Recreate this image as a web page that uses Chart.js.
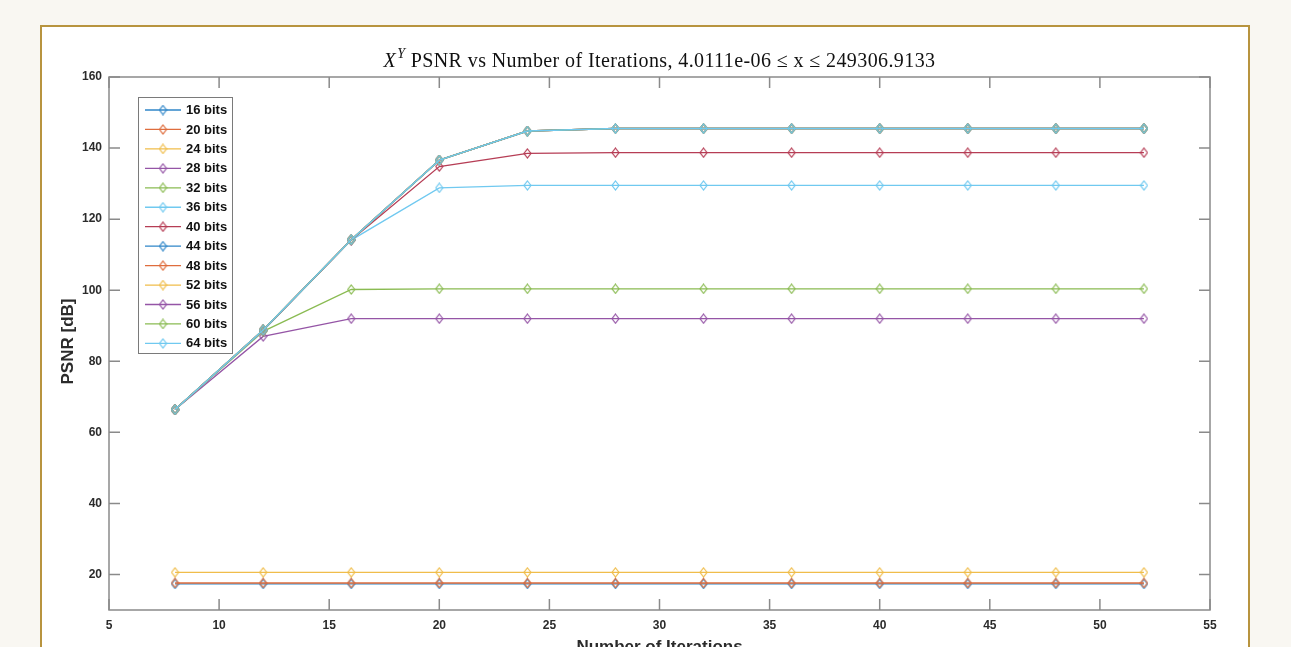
<!DOCTYPE html>
<html>
<head>
<meta charset="utf-8">
<script src="https://cdn.jsdelivr.net/npm/chart.js@4.4.0/dist/chart.umd.min.js"></script>
<style>
  body { margin: 0; background: #f9f7f2; overflow: hidden; }
  #frame {
    position: absolute; left: 40px; top: 25px; width: 1206px; height: 700px;
    border: 2px solid #b8943f; background: #fff;
  }
  #psnrChart { position: absolute; left: 0; top: 0; }
</style>
</head>
<body>
<div id="frame"></div>
<canvas id="psnrChart" width="1291" height="647"></canvas>
<script>
// data
const iterations = [8, 12, 16, 20, 24, 28, 32, 36, 40, 44, 48, 52];
const bitLabels = ['16 bits', '20 bits', '24 bits', '28 bits', '32 bits', '36 bits', '40 bits',
                   '44 bits', '48 bits', '52 bits', '56 bits', '60 bits', '64 bits'];
const psnr16 = [17.35, 17.35, 17.35, 17.35, 17.35, 17.35, 17.35, 17.35, 17.35, 17.35, 17.35, 17.35];
const psnr20 = [17.6, 17.6, 17.6, 17.6, 17.6, 17.6, 17.6, 17.6, 17.6, 17.6, 17.6, 17.6];
const psnr24 = [20.6, 20.6, 20.6, 20.6, 20.6, 20.6, 20.6, 20.6, 20.6, 20.6, 20.6, 20.6];
const psnr28 = [66.4, 87.0, 92.0, 92.0, 92.0, 92.0, 92.0, 92.0, 92.0, 92.0, 92.0, 92.0];
const psnr32 = [66.4, 88.4, 100.2, 100.4, 100.4, 100.4, 100.4, 100.4, 100.4, 100.4, 100.4, 100.4];
const psnr36 = [66.4, 88.6, 114.1, 128.8, 129.5, 129.5, 129.5, 129.5, 129.5, 129.5, 129.5, 129.5];
const psnr40 = [66.4, 88.7, 114.1, 134.8, 138.5, 138.7, 138.7, 138.7, 138.7, 138.7, 138.7, 138.7];
const psnr44 = [66.4, 88.8, 114.2, 136.6, 144.8, 145.5, 145.5, 145.5, 145.5, 145.5, 145.5, 145.5];
const psnr48 = psnr44, psnr52 = psnr44, psnr56 = psnr44, psnr60 = psnr44, psnr64 = psnr44;
const xTicks = [5, 10, 15, 20, 25, 30, 35, 40, 45, 50, 55];
const yTicks = [20, 40, 60, 80, 100, 120, 140, 160];

const series = [psnr16, psnr20, psnr24, psnr28, psnr32, psnr36, psnr40,
                psnr44, psnr48, psnr52, psnr56, psnr60, psnr64];
// matlab default order, a bit lighter like the screenshot
const palette = ['#2f86c8', '#df6d3d', '#f0bd4a', '#9555a6', '#8abb52', '#70c9f0', '#b63d55'];

function diamond(color) {
    const c = document.createElement('canvas');
    c.width = 9; c.height = 11;
    const g = c.getContext('2d');
    g.strokeStyle = color;
    g.lineWidth = 1.2;
    g.beginPath();
    g.moveTo(4.5, 1); g.lineTo(8, 5.5); g.lineTo(4.5, 10); g.lineTo(1, 5.5); g.closePath();
    g.stroke();
    return c;
}

const datasets = series.map((vals, i) => {
    const color = palette[i % palette.length];
    return {
        label: bitLabels[i],
        data: iterations.map((x, k) => ({ x: x, y: vals[k] })),
        borderColor: color,
        backgroundColor: color,
        borderWidth: 1.3,
        pointStyle: diamond(color),
        pointRadius: 5,
        tension: 0,
        order: -i, // later series on top, like matlab hold on
    };
});

const axisGray = '#8a8a8a';
const labelColor = '#2b2b2b';

const matlabAxes = {
    id: 'matlabAxes',
    afterDraw(chart) {
        const ctx = chart.ctx;
        const a = chart.chartArea;
        const xs = chart.scales.x, ys = chart.scales.y;
        ctx.save();
        ctx.strokeStyle = axisGray;
        ctx.lineWidth = 1.5;
        ctx.strokeRect(a.left, a.top, a.right - a.left, a.bottom - a.top);
        ctx.beginPath();
        xTicks.forEach(v => {
            const px = xs.getPixelForValue(v);
            ctx.moveTo(px, a.bottom); ctx.lineTo(px, a.bottom - 11);
            ctx.moveTo(px, a.top); ctx.lineTo(px, a.top + 11);
        });
        yTicks.forEach(v => {
            const py = ys.getPixelForValue(v);
            ctx.moveTo(a.left, py); ctx.lineTo(a.left + 11, py);
            ctx.moveTo(a.right, py); ctx.lineTo(a.right - 11, py);
        });
        ctx.stroke();

        // legend box inside the axes
        const lx = 138, ly = 97, lw = 94, lh = 256, step = 19.45;
        ctx.fillStyle = '#fff';
        ctx.fillRect(lx, ly, lw, lh);
        ctx.lineWidth = 1;
        ctx.strokeStyle = '#7a7a7a';
        ctx.strokeRect(lx + 0.5, ly + 0.5, lw, lh);
        ctx.font = 'bold 13px "Liberation Sans", Arial, sans-serif';
        ctx.textBaseline = 'middle';
        chart.data.datasets.forEach((ds, i) => {
            const y = ly + 13 + i * step;
            ctx.strokeStyle = ds.borderColor;
            ctx.lineWidth = 1.3;
            ctx.beginPath();
            ctx.moveTo(145, y); ctx.lineTo(181, y);
            ctx.stroke();
            ctx.drawImage(ds.pointStyle, 163 - 4.5, y - 5.5);
            ctx.fillStyle = '#111';
            ctx.fillText(ds.label, 186, y + 0.5);
        });

        // title (latex style)
        ctx.fillStyle = '#111';
        ctx.textBaseline = 'alphabetic';
        ctx.letterSpacing = '0.4px';
        const serif = '"Liberation Serif", "DejaVu Serif", serif';
        const rest = ' PSNR vs Number of Iterations, 4.0111e-06 \u2264 x \u2264 249306.9133';
        ctx.font = 'italic 20px ' + serif;
        const wX = ctx.measureText('X').width;
        ctx.font = 'italic 14px ' + serif;
        const wY = ctx.measureText('Y').width;
        ctx.font = '20px ' + serif;
        const wR = ctx.measureText(rest).width;
        let tx = (a.left + a.right) / 2 - (wX + wY + 1 + wR) / 2;
        const tBase = 67;
        ctx.font = 'italic 20px ' + serif;
        ctx.fillText('X', tx, tBase);
        tx += wX + 1;
        ctx.font = 'italic 14px ' + serif;
        ctx.fillText('Y', tx, tBase - 9);
        tx += wY;
        ctx.font = '20px ' + serif;
        ctx.fillText(rest, tx, tBase);
        ctx.letterSpacing = '0px';

        // axis labels
        ctx.font = 'bold 17px "Liberation Sans", Arial, sans-serif';
        ctx.fillStyle = labelColor;
        ctx.textAlign = 'center';
        ctx.fillText('Number of Iterations', (a.left + a.right) / 2, 652);
        ctx.translate(73, (a.top + a.bottom) / 2 - 2);
        ctx.rotate(-Math.PI / 2);
        ctx.fillText('PSNR [dB]', 0, 0);
        ctx.restore();
    }
};

const ctx = document.getElementById('psnrChart').getContext('2d');
new Chart(ctx, {
    type: 'line',
    data: { datasets: datasets },
    options: {
        responsive: false,
        animation: false,
        layout: { padding: { left: 0, top: 77, right: 81, bottom: 0 } },
        plugins: {
            legend: { display: false },
            title: { display: false },
        },
        scales: {
            x: {
                type: 'linear',
                min: 5, max: 55,
                afterBuildTicks: s => { s.ticks = xTicks.map(v => ({ value: v })); },
                afterFit: s => { s.height = 37; },
                grid: { display: false, drawTicks: false },
                border: { display: false },
                ticks: {
                    padding: 8,
                    color: labelColor,
                    font: { family: '"Liberation Sans", Arial, sans-serif', size: 12, weight: 'bold' },
                    maxRotation: 0,
                },
            },
            y: {
                min: 10, max: 160,
                afterBuildTicks: s => { s.ticks = yTicks.map(v => ({ value: v })); },
                afterFit: s => { s.width = 109; },
                grid: { display: false, drawTicks: false },
                border: { display: false },
                ticks: {
                    padding: 7,
                    color: labelColor,
                    font: { family: '"Liberation Sans", Arial, sans-serif', size: 12, weight: 'bold' },
                },
            },
        },
    },
    plugins: [matlabAxes],
});
</script>
</body>
</html>
